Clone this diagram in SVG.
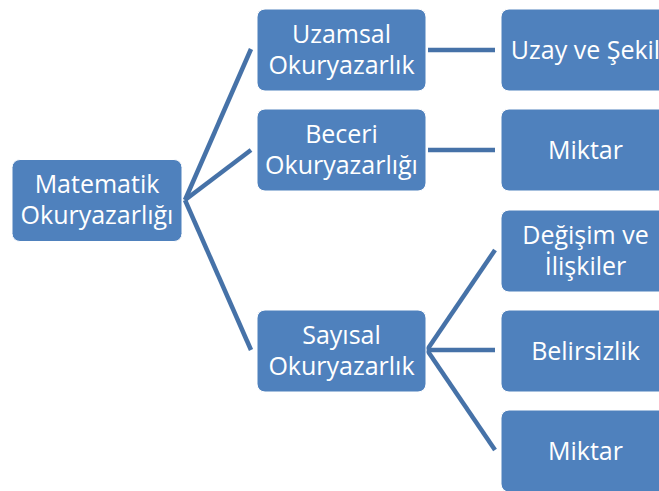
<svg xmlns="http://www.w3.org/2000/svg" width="659" height="491" viewBox="0 0 659 491">
<style>
.box{fill:#4F81BD;stroke:#ffffff;stroke-width:1}
.t{fill:#ffffff;font-family:"Open Sans","DejaVu Sans",sans-serif;font-size:25px;text-anchor:middle}
.c{stroke:#4672A8;stroke-width:4.5;fill:none;stroke-linecap:butt}
</style>
<rect width="659" height="491" fill="#ffffff"/>
<g id="connectors">
<line class="c" x1="185" y1="200" x2="251" y2="49"/>
<line class="c" x1="185" y1="200" x2="251" y2="150"/>
<line class="c" x1="185" y1="200" x2="251" y2="350"/>
<line class="c" x1="428" y1="50" x2="495" y2="50"/>
<line class="c" x1="428" y1="150" x2="495" y2="150"/>
<line class="c" x1="427" y1="350" x2="495" y2="250"/>
<line class="c" x1="427" y1="350" x2="495" y2="350"/>
<line class="c" x1="427" y1="350" x2="495" y2="450"/>
</g>
<g id="root">
<rect class="box" x="12" y="159.5" width="170" height="82" rx="8"/>
<text class="t" x="97" y="193">Matematik</text>
<text class="t" x="97" y="224">Okuryazarlığı</text>
</g>
<g id="uzamsal">
<rect class="box" x="257" y="9" width="169" height="82" rx="8"/>
<text class="t" x="341.5" y="43">Uzamsal</text>
<text class="t" x="341.5" y="74">Okuryazarlık</text>
</g>
<g id="beceri">
<rect class="box" x="257" y="109" width="169" height="82" rx="8"/>
<text class="t" x="341.5" y="143">Beceri</text>
<text class="t" x="341.5" y="174">Okuryazarlığı</text>
</g>
<g id="sayisal">
<rect class="box" x="257" y="310" width="169" height="82" rx="8"/>
<text class="t" x="341.5" y="344">Sayısal</text>
<text class="t" x="341.5" y="375">Okuryazarlık</text>
</g>
<g id="uzay">
<rect class="box" x="501" y="9" width="169" height="82" rx="8"/>
<text class="t" x="585.5" y="59">Uzay ve Şekil</text>
</g>
<g id="miktar1">
<rect class="box" x="501" y="109" width="169" height="82" rx="8"/>
<text class="t" x="585.5" y="159">Miktar</text>
</g>
<g id="degisim">
<rect class="box" x="501" y="210" width="169" height="82" rx="8"/>
<text class="t" x="585.5" y="244">Değişim ve</text>
<text class="t" x="585.5" y="275">İlişkiler</text>
</g>
<g id="belirsizlik">
<rect class="box" x="501" y="310" width="169" height="82" rx="8"/>
<text class="t" x="585.5" y="360">Belirsizlik</text>
</g>
<g id="miktar2">
<rect class="box" x="501" y="410" width="169" height="82" rx="8"/>
<text class="t" x="585.5" y="460">Miktar</text>
</g>
</svg>
